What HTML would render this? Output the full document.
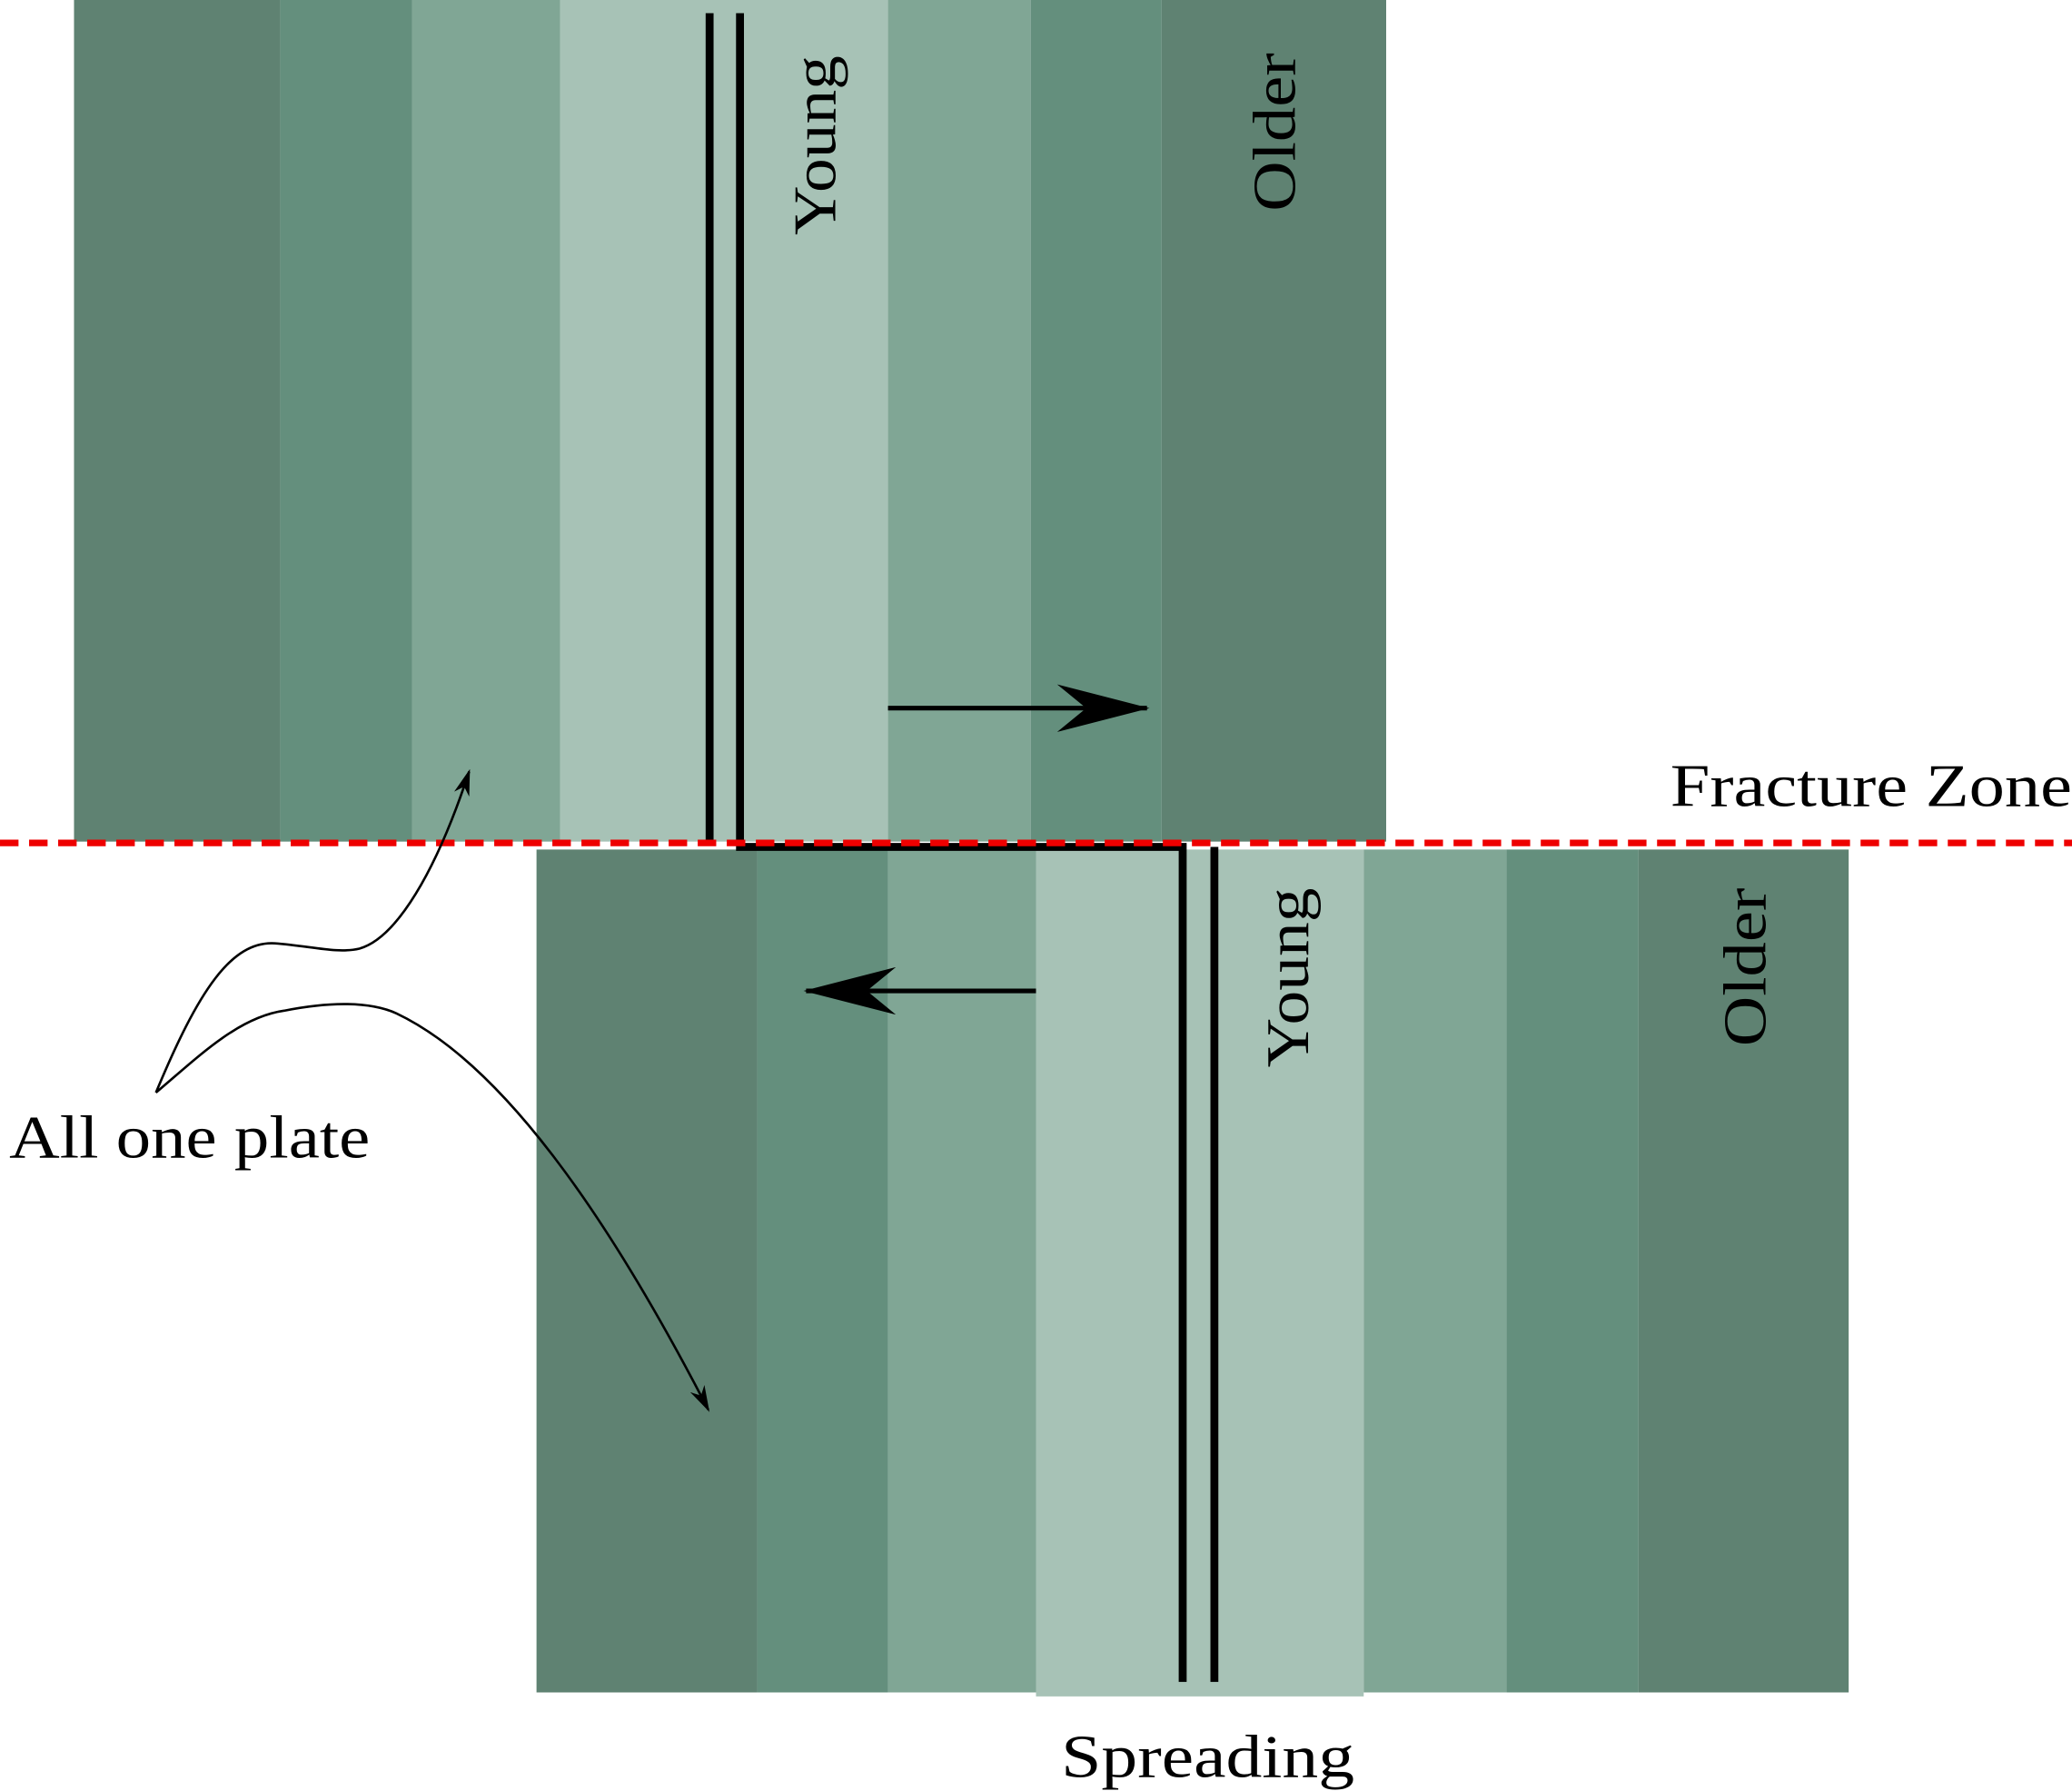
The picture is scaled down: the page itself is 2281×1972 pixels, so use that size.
<!DOCTYPE html>
<html><head><meta charset="utf-8"><style>
html,body{margin:0;padding:0;background:#fff;}
svg{display:block;}
text{font-family:"Liberation Serif",serif;fill:#000;}
</style></head><body>
<svg width="2281" height="1972" viewBox="0 0 1568 1355.6" xmlns="http://www.w3.org/2000/svg">
<defs>
<marker id="ah" viewBox="0 0 20 12" refX="18" refY="6" markerWidth="20" markerHeight="12" markerUnits="userSpaceOnUse" orient="auto"><path d="M0,0 L20,6 L0,12 L6,6 Z" fill="#000"/></marker>
<marker id="bigah" viewBox="0 0 70 36" refX="68" refY="18" markerWidth="70" markerHeight="36" markerUnits="userSpaceOnUse" orient="auto"><path d="M0,0 L70,18 L0,36 L22,18 Z" fill="#000"/></marker>
</defs>
<g id="top-plate"></g>
<g id="bot-plate"></g>

<path d="M537,10 V637 M560,10 V641 H895 V1273 M919,641 V1273" stroke="#000" stroke-width="6" fill="none"/>
<line x1="0" y1="638" x2="1568" y2="638" stroke="#ee0000" stroke-width="5" stroke-dasharray="14 8"/>

<line x1="672" y1="536" x2="868" y2="536" stroke="#000" stroke-width="3.5" marker-end="url(#bigah)"/>
<line x1="784" y1="750" x2="610" y2="750" stroke="#000" stroke-width="3.5" marker-end="url(#bigah)"/>

<path d="M118,827 C150,750 175,712 208,714 C235,716 255,722 272,718 C300,710 330,660 355,584" stroke="#000" stroke-width="1.8" fill="none" marker-end="url(#ah)"/>
<path d="M118,827 C150,800 180,770 215,765 C250,758 280,758 300,767 C380,805 460,920 536,1067" stroke="#000" stroke-width="1.8" fill="none" marker-end="url(#ah)"/>

<text font-size="46" textLength="136" lengthAdjust="spacingAndGlyphs" transform="translate(632,178) rotate(-90)">Young</text>
<text font-size="46" textLength="120" lengthAdjust="spacingAndGlyphs" transform="translate(980,160) rotate(-90)">Older</text>
<text font-size="46" textLength="136" lengthAdjust="spacingAndGlyphs" transform="translate(990,808) rotate(-90)">Young</text>
<text font-size="46" textLength="120" lengthAdjust="spacingAndGlyphs" transform="translate(1336,792) rotate(-90)">Older</text>
<text font-size="46" x="1264" y="610" textLength="304" lengthAdjust="spacingAndGlyphs">Fracture Zone</text>
<text font-size="46" x="7" y="876" textLength="273" lengthAdjust="spacingAndGlyphs">All one plate</text>
<text font-size="46" x="803" y="1345" textLength="222" lengthAdjust="spacingAndGlyphs">Spreading</text>
</svg>
<script>
const topEdges=[56,212,312,424,672,780,879,1049];
const topTone=[0,1,2,3,2,1,0];
const botEdges=[406,573,672,784,1032,1140,1240,1399];
const botTone=[0,1,2,3,2,1,0];
const colors=['#5f8272','#648f7d','#80a695','#a7c2b6'];
const ns='http://www.w3.org/2000/svg';
function draw(gid,edges,tones,y0,y1,yIn1){
  const g=document.getElementById(gid);
  for(let i=0;i<tones.length;i++){
    const r=document.createElementNS(ns,'rect');
    const yb=tones[i]===3?yIn1:y1;
    r.setAttribute('x',edges[i]);r.setAttribute('width',edges[i+1]-edges[i]);
    r.setAttribute('y',y0);r.setAttribute('height',yb-y0);
    r.setAttribute('fill',colors[tones[i]]);
    
    
    g.appendChild(r);
  }
}
draw('top-plate',topEdges,topTone,0,637,637);
draw('bot-plate',botEdges,botTone,643,1281,1284);
</script>
</body></html>
